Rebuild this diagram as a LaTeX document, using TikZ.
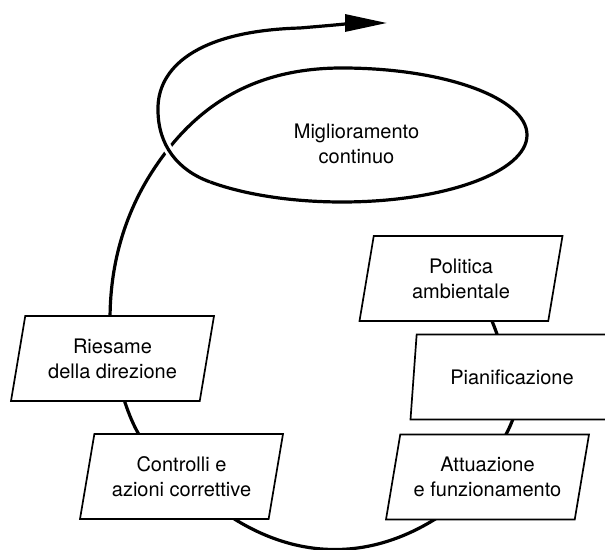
\documentclass[tikz,border=0pt]{standalone}
\usepackage{fontspec}
\setmainfont{TeX Gyre Heros}
\usetikzlibrary{shapes.geometric,arrows.meta,backgrounds}

\begin{document}
\begin{tikzpicture}[x=1pt,y=1pt,
  every node/.style={font=\fontsize{20}{25}\selectfont},
  stage/.style={draw,line width=1.7pt,fill=white,trapezium,
    trapezium left angle=72,trapezium right angle=108,
    trapezium stretches body,minimum width=203pt,minimum height=85pt,
    align=center,inner sep=2pt},
  spiral/.style={line width=3.2pt}]
  \useasboundingbox (0,0) rectangle (605,549);

  \node[align=center] (migl) at (356.5,405.5) {Miglioramento\\continuo};

  % fasi del ciclo
  \node[stage] (pol)  at (461,270.5)  {Politica\\ambientale};
  \node[stage] (pian) at (512,172)    {Pianificazione};
  \node[stage] (att)  at (487.5,72)   {Attuazione\\e funzionamento};
  \node[stage] (con)  at (181.5,72.5) {Controlli e\\azioni correttive};
  \node[stage] (ries) at (112.5,190.5) {Riesame\\della direzione};

  \coordinate (tip) at (387,526);

  \begin{pgfonlayer}{background}
    \draw[spiral] (pol.center) to[out=-40,in=112] (pian.center);
    \draw[spiral] (pian.center) to[out=-65,in=75] (att.center);
    \draw[spiral] (att.center) to[out=-135,in=-45,looseness=1.15] (con.center);
    \draw[spiral] (con.center) to[out=150,in=-75] (ries.center);

    % risalita ed ellisse
    \draw[spiral] (ries.center) .. controls (104,260) and (118,320) .. (147,369)
      .. controls (192.8,445.3) and (256,481) .. (342,481)
      arc[start angle=90,end angle=-135.5,x radius=185,y radius=67]
      coordinate (loopend);
    % uscita verso la freccia (passa sopra)
    \draw[spiral,preaction={draw=white,line width=9pt},
      -{Triangle[length=42pt,width=17pt]}]
      (loopend) .. controls (177.3,378.9) and (158,404.2) .. (158,439)
      .. controls (157,480) and (195,518) .. (300,521)
      .. controls (335,524) and (360,526) .. (tip);
  \end{pgfonlayer}
\end{tikzpicture}
\end{document}
